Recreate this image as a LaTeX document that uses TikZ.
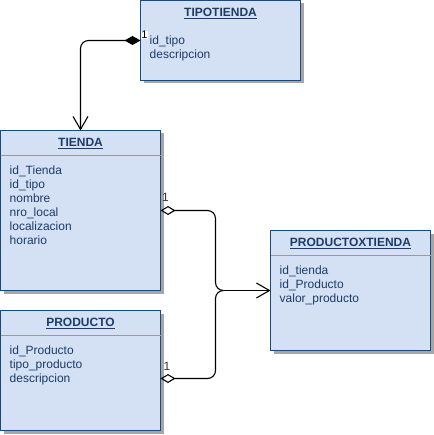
\documentclass[tikz,border=0pt]{standalone}
\usepackage{fontspec}
\setmainfont{Liberation Sans}
\usetikzlibrary{arrows.meta,shadows}
\definecolor{boxfill}{HTML}{D4E1F5}
\definecolor{boxdraw}{HTML}{1A4A7C}
\definecolor{boxtext}{HTML}{1C3C68}
\definecolor{sepgray}{HTML}{9A9A9A}
\definecolor{lbltext}{HTML}{333333}
\tikzset{
  entity/.style={draw=boxdraw, fill=boxfill, line width=1pt, anchor=north west,
    minimum width=160pt, inner sep=0pt, outer sep=0pt,
    drop shadow={shadow xshift=3pt, shadow yshift=-3pt, fill=black!35, opacity=1}},
  etitle/.style={anchor=base, font=\fontsize{12}{14}\selectfont\bfseries, text=boxtext, inner sep=0pt},
  efields/.style={anchor=north west, align=left, font=\fontsize{12}{14}\selectfont, text=boxtext, inner sep=0pt},
  sepline/.style={draw=sepgray, line width=0.8pt},
  conn/.style={draw=black, line width=1.1pt, rounded corners=8pt},
  mult/.style={font=\fontsize{12}{13}\selectfont, text=lbltext, inner sep=0.5pt},
}
\begin{document}
\begin{tikzpicture}[x=1pt,y=-1pt]
\useasboundingbox (0,0) rectangle (433,435);
% boxes
\node[entity, minimum height=80pt] (tipo) at (140.5,0.5) {};
\node[entity, minimum height=160pt] (tienda) at (0.5,130.5) {};
\node[entity, minimum height=120pt] (prod) at (0.5,310.5) {};
\node[entity, minimum height=120pt] (pxt) at (270.5,230.5) {};
% separators
\draw[sepline] ([yshift=-25pt]tienda.north west) -- ([yshift=-25pt]tienda.north east);
\draw[sepline] ([yshift=-25pt]prod.north west) -- ([yshift=-25pt]prod.north east);
\draw[sepline] ([yshift=-25pt]pxt.north west) -- ([yshift=-25pt]pxt.north east);
% titles
\node[etitle] (tipoT) at ([yshift=-16pt]tipo.north) {\underline{TIPOTIENDA}};
\node[etitle] (tiendaT) at ([yshift=-16pt]tienda.north) {\underline{TIENDA}};
\node[etitle] (prodT) at ([yshift=-16pt]prod.north) {\underline{PRODUCTO}};
\node[etitle] (pxtT) at ([yshift=-16pt]pxt.north) {\underline{PRODUCTOXTIENDA}};
% fields
\node[efields] (tipoF) at ([xshift=9pt,yshift=-35.5pt]tipo.north west) {id\_tipo\\descripcion};
\node[efields] (tiendaF) at ([xshift=9pt,yshift=-35.5pt]tienda.north west) {id\_Tienda\\id\_tipo\\nombre\\nro\_local\\localizacion\\horario};
\node[efields] (prodF) at ([xshift=9pt,yshift=-35.5pt]prod.north west) {id\_Producto\\tipo\_producto\\descripcion};
\node[efields] (pxtF) at ([xshift=9pt,yshift=-35.5pt]pxt.north west) {id\_tienda\\id\_Producto\\valor\_producto};
% connector TIPOTIENDA -> TIENDA
\draw[conn, {Diamond[length=16pt,width=9pt]}-{Straight Barb[length=13pt,width=15pt]}]
  (tipo.west |- 0,40.5) -| (tienda.north);
\node[mult, fill=white, font=\fontsize{11}{12}\selectfont, text=black] (m0) at (144.5,35) {1};
% connectors to PRODUCTOXTIENDA
\coordinate (j) at (215.5,290.5);
\coordinate (m) at (223.5,290.5);
\draw[conn, {Diamond[open,length=15pt,width=9pt]}-] (tienda.east |- 0,210.5) -| (j) -- (m);
\draw[conn, {Diamond[open,length=15pt,width=9pt]}-] (prod.east |- 0,378.5) -| (j) -- (m);
\draw[conn, -{Straight Barb[length=13pt,width=15pt]}] (m) -- (pxt.west);
\node[mult] (m1) at (165.5,197.5) {1};
\node[mult] (m2) at (167,366) {1};
\end{tikzpicture}
\end{document}
